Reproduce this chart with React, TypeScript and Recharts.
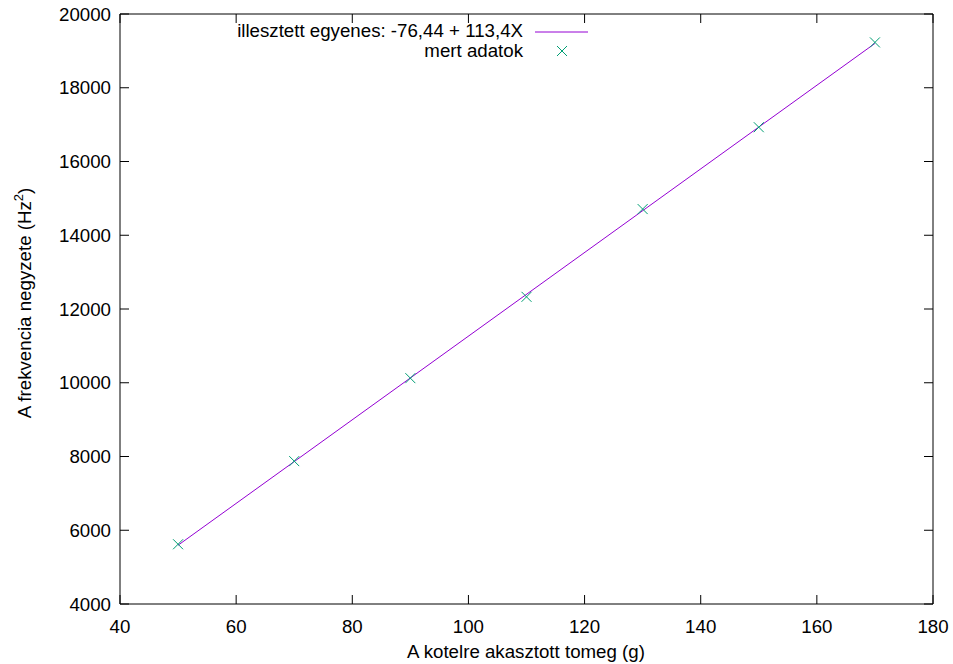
import React from 'react';
import { ScatterChart, Scatter, XAxis, YAxis, Legend } from 'recharts';

const measuredMass = [50, 70, 90, 110, 130, 150, 170];
const measuredFreqSq = [5620, 7875, 10125, 12330, 14710, 16930, 19230];
const fitMass = [50, 170];
const fitFreqSq = [5594, 19202];
const xTicks = [40, 60, 80, 100, 120, 140, 160, 180];
const yTicks = [4000, 6000, 8000, 10000, 12000, 14000, 16000, 18000, 20000];

const measured = measuredMass.map((x, i) => ({ x, y: measuredFreqSq[i] }));
const fit = fitMass.map((x, i) => ({ x, y: fitFreqSq[i] }));

const FONT = '"Liberation Sans", Arial, sans-serif';
const FS = 18.7;
const LINE = '#9400d3';
const PT = '#009e73';
const TICK = 9;

const CrossShape = (props: any) => {
  const { cx, cy } = props;
  if (cx == null || cy == null) return null;
  const r = 5;
  return (
    <g>
      <line x1={cx - r} y1={cy - r} x2={cx + r} y2={cy + r} stroke={PT} strokeWidth={1} />
      <line x1={cx - r} y1={cy + r} x2={cx + r} y2={cy - r} stroke={PT} strokeWidth={1} />
    </g>
  );
};

const NoShape = () => null;

const BottomTick = (props: any) => {
  const { x, y, payload } = props;
  return (
    <g>
      <line x1={x} y1={y} x2={x} y2={y - TICK} stroke="#000" strokeWidth={1} />
      <text x={x} y={y + 29} textAnchor="middle" fontFamily={FONT} fontSize={FS} fill="#000">
        {payload.value}
      </text>
    </g>
  );
};

const TopTick = (props: any) => {
  const { x, y } = props;
  return <line x1={x} y1={y} x2={x} y2={y + TICK} stroke="#000" strokeWidth={1} />;
};

const LeftTick = (props: any) => {
  const { x, y, payload } = props;
  return (
    <g>
      <line x1={x} y1={y} x2={x + TICK} y2={y} stroke="#000" strokeWidth={1} />
      <text x={x - 9} y={y + 6.5} textAnchor="end" fontFamily={FONT} fontSize={FS} fill="#000">
        {payload.value}
      </text>
    </g>
  );
};

const RightTick = (props: any) => {
  const { x, y } = props;
  return <line x1={x} y1={y} x2={x - TICK} y2={y} stroke="#000" strokeWidth={1} />;
};

const LegendContent = () => (
  <svg width={953} height={70} style={{ position: 'absolute', left: 0, top: 0, overflow: 'visible' }}>
    <text x={523} y={37} textAnchor="end" fontFamily={FONT} fontSize={FS} fill="#000">
      illesztett egyenes: -76,44 + 113,4X
    </text>
    <line x1={535} y1={32} x2={588} y2={32} stroke={LINE} strokeWidth={1} />
    <text x={523} y={57} textAnchor="end" fontFamily={FONT} fontSize={FS} fill="#000">
      mert adatok
    </text>
    <CrossShape cx={562} cy={51} />
  </svg>
);

export default function App() {
  return (
    <div style={{ position: 'absolute', left: 0, top: 0, background: '#fff' }}>
      <ScatterChart width={953} height={664} margin={{ top: 13, right: 19, bottom: 30, left: 60 }}>
        <XAxis
          xAxisId="b"
          dataKey="x"
          type="number"
          domain={[40, 180]}
          ticks={xTicks}
          interval={0}
          orientation="bottom"
          height={30}
          tickSize={0}
          tickMargin={0}
          tick={<BottomTick />}
          axisLine={{ stroke: '#000', strokeWidth: 1 }}
          allowDataOverflow
          label={{
            content: () => (
              <text x={526} y={658} textAnchor="middle" fontFamily={FONT} fontSize={FS} fill="#000">
                A kotelre akasztott tomeg (g)
              </text>
            ),
          }}
        />
        <XAxis
          xAxisId="t"
          dataKey="x"
          type="number"
          domain={[40, 180]}
          ticks={xTicks}
          interval={0}
          orientation="top"
          height={1}
          tickSize={0}
          tickMargin={0}
          tick={<TopTick />}
          axisLine={{ stroke: '#000', strokeWidth: 1 }}
          allowDataOverflow
        />
        <YAxis
          yAxisId="l"
          dataKey="y"
          type="number"
          domain={[4000, 20000]}
          ticks={yTicks}
          interval={0}
          orientation="left"
          width={60}
          tickSize={0}
          tickMargin={0}
          tick={<LeftTick />}
          axisLine={{ stroke: '#000', strokeWidth: 1 }}
          allowDataOverflow
          label={{
            content: () => (
              <text
                transform="translate(31,303) rotate(-90)"
                x={0}
                y={0}
                textAnchor="middle"
                fontFamily={FONT}
                fontSize={FS}
                fill="#000"
              >
                A frekvencia negyzete (Hz
                <tspan fontSize={13} dy={-8}>2</tspan>
                <tspan dy={8}>)</tspan>
              </text>
            ),
          }}
        />
        <YAxis
          yAxisId="r"
          dataKey="y"
          type="number"
          domain={[4000, 20000]}
          ticks={yTicks}
          interval={0}
          orientation="right"
          width={1}
          tickSize={0}
          tickMargin={0}
          tick={<RightTick />}
          axisLine={{ stroke: '#000', strokeWidth: 1 }}
          allowDataOverflow
        />
        <Legend content={<LegendContent />} wrapperStyle={{ position: 'absolute', left: 0, top: 0, width: 953, height: 0 }} />
        <Scatter
          name="border"
          data={measured}
          xAxisId="t"
          yAxisId="r"
          shape={<NoShape />}
          legendType="none"
          isAnimationActive={false}
        />
        <Scatter
          name="illesztett egyenes: -76,44 + 113,4X"
          data={fit}
          xAxisId="b"
          yAxisId="l"
          line={{ stroke: LINE, strokeWidth: 1 }}
          shape={<NoShape />}
          isAnimationActive={false}
        />
        <Scatter
          name="mert adatok"
          data={measured}
          xAxisId="b"
          yAxisId="l"
          shape={<CrossShape />}
          isAnimationActive={false}
        />
      </ScatterChart>
    </div>
  );
}
